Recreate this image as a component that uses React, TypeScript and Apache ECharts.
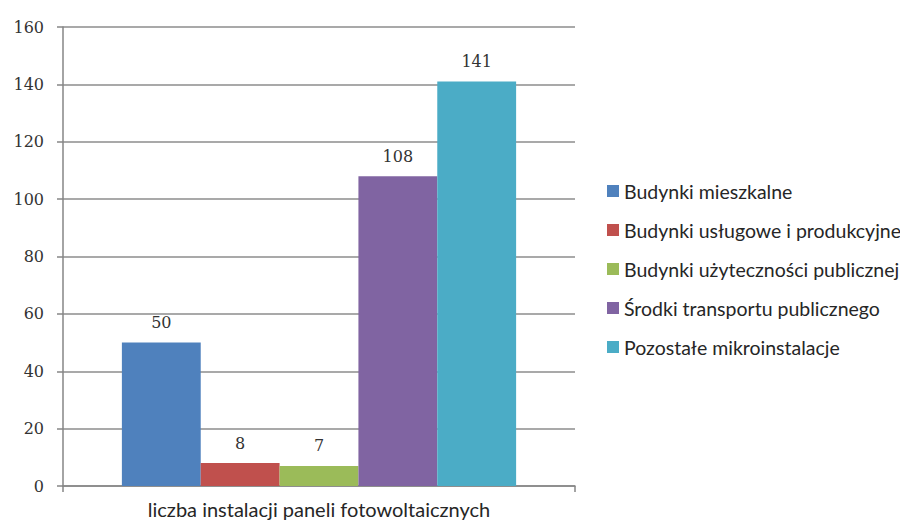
import React, { useEffect, useRef } from "react";
import * as echarts from "echarts";

const categories = ["liczba instalacji paneli fotowoltaicznych"];
const seriesNames = [
  "Budynki mieszkalne",
  "Budynki usługowe i produkcyjne",
  "Budynki użyteczności publicznej",
  "Środki transportu publicznego",
  "Pozostałe mikroinstalacje",
];
const seriesValues = [50, 8, 7, 108, 141];
const seriesColors = ["#4F81BD", "#C0504D", "#9BBB59", "#8064A2", "#4BACC6"];

export default function App() {
  const ref = useRef<HTMLDivElement>(null);
  useEffect(() => {
    const chart = echarts.init(ref.current!, null, { renderer: "svg" });
    chart.setOption({
      animation: false,
      grid: { left: 55, right: 325, top: 19, bottom: 36 },
      legend: {
        orient: "vertical",
        left: 594,
        top: 168,
        itemWidth: 12,
        itemHeight: 12,
        itemGap: 19,
        icon: "rect",
        textStyle: { fontFamily: "Lato", fontSize: 19.5, color: "#262626" },
        data: seriesNames,
      },
      xAxis: {
        type: "category",
        data: categories,
        axisLine: { lineStyle: { color: "#868686", width: 1.5 } },
        axisTick: { show: true, length: 6, lineStyle: { color: "#868686", width: 1.5 } },
        axisLabel: { fontFamily: "Lato", fontSize: 20, color: "#262626", margin: 13 },
      },
      yAxis: {
        type: "value",
        min: 0,
        max: 160,
        interval: 20,
        axisLine: { show: true, lineStyle: { color: "#868686", width: 1.5 } },
        axisTick: { show: true, length: 6, lineStyle: { color: "#868686", width: 1.5 } },
        splitLine: { lineStyle: { color: "#8c8c8c", width: 1.5 } },
        axisLabel: { fontFamily: "DejaVu Serif", fontSize: 16, color: "#333", margin: 19 },
      },
      series: seriesNames.map((name, i) => ({
        name,
        type: "bar",
        data: [seriesValues[i]],
        barGap: "0%",
        barCategoryGap: "23%",
        itemStyle: { color: seriesColors[i] },
        label: {
          show: true,
          position: "top",
          distance: 12,
          fontFamily: "DejaVu Serif",
          fontSize: 16,
          color: "#333",
        },
      })),
    });
    return () => chart.dispose();
  }, []);
  return <div ref={ref} style={{ width: 892, height: 514 }} />;
}
